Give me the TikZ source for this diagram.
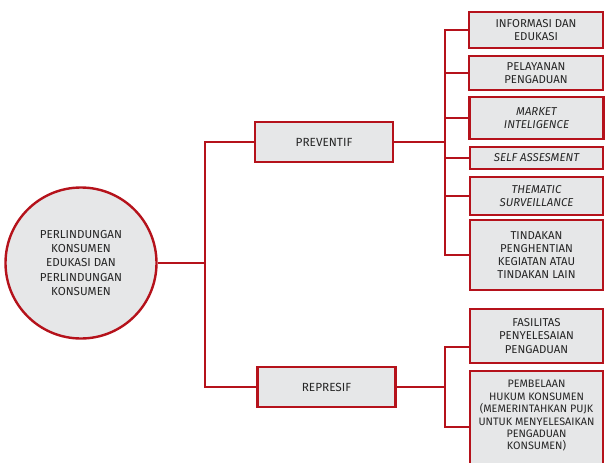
\documentclass[tikz,border=0pt]{standalone}
\usepackage{fontspec}
\setmainfont{Fira Sans}
\usetikzlibrary{calc}
\definecolor{linered}{HTML}{B5121B}
\definecolor{boxgray}{HTML}{E6E7E8}
\definecolor{txtgray}{HTML}{262626}
\begin{document}
\begin{tikzpicture}[x=1pt,y=-1pt,
  conn/.style={draw=linered,line width=2.4pt},
  item/.style={draw=linered,line width=2.4pt,fill=boxgray,text=txtgray,
    align=center,inner sep=1pt,minimum width=134pt,
    font=\fontsize{11.4}{13.2}\selectfont},
  branch/.style={item,minimum width=138pt,minimum height=40pt,
    font=\fontsize{11.8}{13}\selectfont},
  rootnode/.style={circle,draw=linered,line width=2.4pt,fill=boxgray,
    text=txtgray,align=center,minimum size=151pt,inner sep=0pt,
    font=\fontsize{11.6}{14.2}\selectfont}]
\useasboundingbox (0,0) rectangle (605,463);

% central topic
\node[rootnode] (root) at (81,263)
  {PERLINDUNGAN\\KONSUMEN\\EDUKASI DAN\\PERLINDUNGAN\\KONSUMEN};

% two main branches
\node[branch] (prev) at (324,142) {PREVENTIF};
\node[branch] (rep) at (326.5,387) {REPRESIF};

% preventive measures
\node[item,minimum height=36pt] (b1) at (536,30) {INFORMASI DAN\\EDUKASI};
\node[item,minimum height=34pt] (b2) at (536,73) {PELAYANAN\\PENGADUAN};
\node[item,minimum height=42pt] (b3) at (536.5,118) {\itshape MARKET\\\itshape INTELIGENCE};
\node[item,minimum height=22pt,minimum width=133pt] (b4) at (536.5,158) {\itshape SELF ASSESMENT};
\node[item,minimum height=38pt,minimum width=133pt] (b5) at (536.5,196) {\itshape THEMATIC\\\itshape SURVEILLANCE};
\node[item,minimum height=70pt,minimum width=133pt] (b6) at (536.5,255)
  {TINDAKAN\\PENGHENTIAN\\KEGIATAN ATAU\\TINDAKAN LAIN};

% repressive measures
\node[item,minimum height=54pt,minimum width=133pt] (b7) at (536.5,336)
  {FASILITAS\\PENYELESAIAN\\PENGADUAN};
\node[item,minimum height=112pt,minimum width=133pt,anchor=north,
  font=\fontsize{10.8}{12.4}\selectfont,text depth=24pt] (b8) at (536.5,370)
  {PEMBELAAN\\HUKUM KONSUMEN\\(MEMERINTAHKAN PUJK\\UNTUK MENYELESAIKAN\\PENGADUAN\\KONSUMEN)};

% junction points
\coordinate (j1) at (205,263);
\coordinate (j2) at (445,142);
\coordinate (j3) at (445,387);
\coordinate (b7in) at ($(b7.west)+(0,11)$);

% connectors
\draw[conn] (root.east) -- (j1);
\draw[conn] (prev.west) -| (j1) |- (rep.west);
\draw[conn] (prev.east) -- (j2);
\draw[conn] (b1.west) -| (j2) |- (b6.west);
\foreach \b in {b2,b3,b4,b5} \draw[conn] (j2 |- \b.west) -- (\b.west);
\draw[conn] (rep.east) -- (j3);
\draw[conn] (b7in) -| (j3) |- (b8.west);
\end{tikzpicture}
\end{document}
